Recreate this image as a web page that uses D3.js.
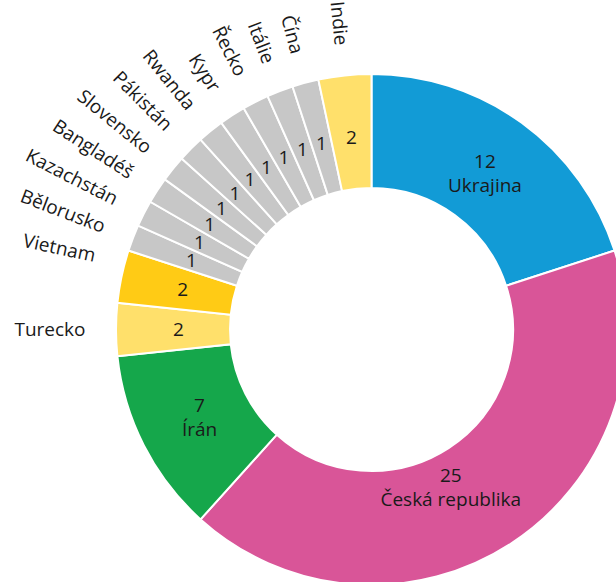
<!DOCTYPE html>
<html>
<head>
<meta charset="utf-8">
<script src="https://cdn.jsdelivr.net/npm/d3@7"></script>
<style>
  html, body { margin: 0; padding: 0; background: #fff; }
  svg { display: block; }
  text { font-family: "Open Sans", sans-serif; fill: #1a1a1a; }
</style>
</head>
<body>
<script>
// countries in clockwise order from 12 o'clock
var countries = ["Ukrajina", "Česká republika", "Írán", "Turecko", "Vietnam",
  "Bělorusko", "Kazachstán", "Bangladéš", "Slovensko", "Pákistán", "Rwanda",
  "Kypr", "Řecko", "Itálie", "Čína", "Indie"];
var counts = [12, 25, 7, 2, 2, 1, 1, 1, 1, 1, 1, 1, 1, 1, 1, 2];

var sliceColors = ["#129bd6", "#d95598", "#15a74b", "#ffe06b", "#ffcb15",
  "#c7c7c7", "#c7c7c7", "#c7c7c7", "#c7c7c7", "#c7c7c7", "#c7c7c7",
  "#c7c7c7", "#c7c7c7", "#c7c7c7", "#c7c7c7", "#ffe06b"];

var width = 616, height = 582;
var cx = 371.5, cy = 329.5;
var outerR = 255.5, innerR = 141.5;
var fontSize = "19px";

// small manual nudges for label placement (degrees / px)
var labelNudge = {
  "Česká republika": { da: 6.4, dr: -16 },
  "Vietnam": { da: 3 }
};

var data = countries.map(function(c, i) {
  return { name: c, count: counts[i] };
});

var color = d3.scaleOrdinal().domain(countries).range(sliceColors);

var svg = d3.select("body")
  .append("svg")
    .attr("width", width)
    .attr("height", height)
  .append("g")
    .attr("transform", "translate(" + cx + "," + cy + ")");

var pie = d3.pie()
  .sort(null)
  .value(function(d) { return d.count; });

var arc = d3.arc()
  .innerRadius(innerR)
  .outerRadius(outerR);

var arcs = pie(data);

svg.selectAll("path.slice")
  .data(arcs)
  .enter()
  .append("path")
    .attr("class", "slice")
    .attr("d", arc)
    .attr("fill", function(d) { return color(d.data.name); })
    .attr("stroke", "#fff")
    .attr("stroke-width", 2);

function polar(a, r) {
  return [r * Math.sin(a), -r * Math.cos(a)];
}
function midAngle(d) { return (d.startAngle + d.endAngle) / 2; }
function nudge(d) { return labelNudge[d.data.name] || {}; }

var labelR = 193;
var big = arcs.filter(function(d) { return d.data.count > 2; });
var small = arcs.filter(function(d) { return d.data.count <= 2; });

// value + name inside the big slices
var bigLabels = svg.selectAll("g.big-label")
  .data(big)
  .enter()
  .append("g")
    .attr("class", "big-label")
    .attr("transform", function(d) {
      var n = nudge(d);
      var p = polar(midAngle(d) + (n.da || 0) * Math.PI / 180, labelR + (n.dr || 0));
      return "translate(" + p[0] + "," + p[1] + ")";
    });

bigLabels.append("text")
  .attr("text-anchor", "middle")
  .attr("y", -12)
  .attr("dy", "0.35em")
  .style("font-size", fontSize)
  .text(function(d) { return d.data.count; });

bigLabels.append("text")
  .attr("text-anchor", "middle")
  .attr("y", 12)
  .attr("dy", "0.35em")
  .style("font-size", fontSize)
  .text(function(d) { return d.data.name; });

// values inside the small slices
svg.selectAll("text.small-value")
  .data(small)
  .enter()
  .append("text")
    .attr("class", "small-value")
    .attr("text-anchor", "middle")
    .attr("dy", "0.35em")
    .style("font-size", fontSize)
    .attr("transform", function(d) {
      var p = polar(midAngle(d), labelR);
      return "translate(" + p[0] + "," + p[1] + ")";
    })
    .text(function(d) { return d.data.count; });

// country names outside, rotated along the radius
var outerLabelR = 286;
svg.selectAll("text.small-name")
  .data(small)
  .enter()
  .append("text")
    .attr("class", "small-name")
    .attr("text-anchor", "end")
    .attr("dy", "0.35em")
    .style("font-size", fontSize)
    .attr("transform", function(d) {
      var n = nudge(d);
      var a = midAngle(d) + (n.da || 0) * Math.PI / 180;
      var p = polar(a, outerLabelR);
      var rot = midAngle(d) * 180 / Math.PI - 270;
      return "translate(" + p[0] + "," + p[1] + ") rotate(" + rot + ")";
    })
    .text(function(d) { return d.data.name; });
</script>
</body>
</html>
